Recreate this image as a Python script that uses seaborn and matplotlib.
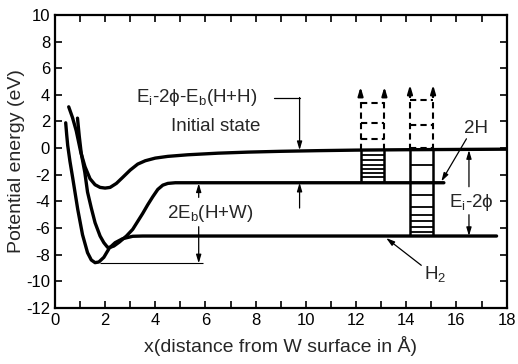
import numpy as np
import pandas as pd
import matplotlib
matplotlib.use("Agg")
import matplotlib.pyplot as plt
import seaborn as sns

# curve points (x in Angstrom, energy in eV)
init_x = [0.55, 0.7, 0.85, 1.03, 1.2, 1.4, 1.6, 1.8, 2.0, 2.2, 2.45, 2.7, 3.0, 3.3, 3.6, 4.0,
          4.5, 5.3, 6.5, 7.7, 9.0, 10.5, 12.0, 14.0, 16.0, 18.0]
init_y = [3.1, 2.3, 1.3, -0.3, -1.4, -2.3, -2.75, -2.95, -3.0, -2.95, -2.65, -2.2, -1.65, -1.2,
          -0.95, -0.75, -0.62, -0.5, -0.38, -0.3, -0.24, -0.19, -0.15, -0.12, -0.1, -0.08]

h2h_x = [0.9, 0.97, 1.05, 1.19, 1.3, 1.45, 1.6, 1.8, 1.95, 2.1, 2.2, 2.35, 2.57, 2.85, 3.1, 3.3,
         3.5, 3.7, 3.9, 4.1, 4.3, 4.5, 4.8, 15.5]
h2h_y = [2.25, 0.9, -0.4, -1.8, -3.3, -4.5, -5.6, -6.6, -7.1, -7.45, -7.45, -7.35, -7.05, -6.6,
         -6.1, -5.5, -4.9, -4.25, -3.65, -3.1, -2.78, -2.65, -2.6, -2.6]

h2_x = [0.43, 0.47, 0.51, 0.6, 0.71, 0.91, 1.1, 1.3, 1.45, 1.6, 1.75, 1.95, 2.17, 2.4, 2.7, 3.1,
        3.5, 17.6]
h2_y = [1.9, 1.0, 0.2, -1.0, -2.25, -4.6, -6.5, -7.85, -8.4, -8.6, -8.55, -8.2, -7.5, -7.1,
        -6.8, -6.62, -6.6, -6.6]

# energy ladders
ladder1_x = [12.18, 13.13]
ladder1_solid = [-0.5, -0.9, -1.25, -1.55, -1.85, -2.15]
ladder1_dash = [0.7, 1.9, 3.4]
ladder2_x = [14.15, 15.07]
ladder2_solid = [-1.25, -2.6, -3.5, -4.4, -5.0, -5.5, -5.9, -6.3]
ladder2_dash = [0.0, 1.7, 3.6]

level_init = -0.15
level_2h = -2.6
level_h2 = -6.6
h2_min = -8.65

df = pd.concat([
    pd.DataFrame({"x": init_x, "E": init_y, "state": "initial"}),
    pd.DataFrame({"x": h2h_x, "E": h2h_y, "state": "2H"}),
    pd.DataFrame({"x": h2_x, "E": h2_y, "state": "H2"}),
])

sns.set_style("ticks", {"xtick.direction": "in", "ytick.direction": "in"})
plt.rcParams["font.family"] = ["Liberation Sans", "DejaVu Sans"]
plt.rcParams["mathtext.fontset"] = "custom"
plt.rcParams["mathtext.rm"] = "Liberation Sans"
plt.rcParams["axes.unicode_minus"] = False

fig = plt.figure(figsize=(5.18, 3.64), dpi=100)
ax = fig.add_axes([0.106, 0.154, 0.872, 0.805])

sns.lineplot(data=df, x="x", y="E", units="state", estimator=None, sort=False,
             color="black", linewidth=2.4, ax=ax, legend=False)

lw_thin = 0.9
fs = 13.5
# reference line at H2 minimum
ax.hlines(h2_min, 1.8, 5.9, color="black", linewidth=0.8)

# ladders: solid parts
ax.vlines(ladder1_x, level_2h, level_init, color="black", linewidth=1.8)
ax.hlines(ladder1_solid, ladder1_x[0], ladder1_x[1], color="black", linewidth=1.3)
ax.vlines(ladder2_x, level_h2, level_init, color="black", linewidth=1.8)
ax.hlines(ladder2_solid, ladder2_x[0], ladder2_x[1], color="black", linewidth=1.3)
# ladders: dashed parts with arrows on top
for lx, dash, top in [(ladder1_x, ladder1_dash, 4.6), (ladder2_x, ladder2_dash, 4.75)]:
    ax.vlines(lx, level_init, top - 0.6, color="black", linewidth=1.5, linestyles=(0, (3, 2)))
    ax.hlines(dash, lx[0], lx[1], color="black", linewidth=1.5, linestyles=(0, (3, 2)))
    for xx in lx:
        ax.annotate("", xy=(xx, top), xytext=(xx, top - 0.7),
                    arrowprops=dict(arrowstyle="-|>,head_length=0.5,head_width=0.15",
                                    color="black", lw=1.5, shrinkA=0, shrinkB=0))

arr = dict(arrowstyle="-|>,head_length=0.5,head_width=0.15", color="black",
           lw=lw_thin, shrinkA=0, shrinkB=0)

# E_i - 2phi - E_b(H+H) label with leader
ax.text(5.65, 3.8, "E$_\\mathregular{i}$-2\u03d5-E$_\\mathregular{b}$(H+H)",
        ha="center", va="center", fontsize=fs)
ax.plot([8.75, 9.75], [3.8, 3.8], color="black", linewidth=lw_thin)
ax.annotate("", xy=(9.75, level_init), xytext=(9.75, 3.8), arrowprops=arr)
ax.annotate("", xy=(9.75, level_2h), xytext=(9.75, -4.5), arrowprops=arr)
ax.text(6.4, 1.6, "Initial state", ha="center", va="center", fontsize=fs)

# 2E_b(H+W)
ax.text(6.2, -4.9, "2E$_\\mathregular{b}$(H+W)", ha="center", va="center", fontsize=fs)
ax.annotate("", xy=(5.73, level_2h - 0.05), xytext=(5.73, -3.7), arrowprops=arr)
ax.annotate("", xy=(5.73, h2_min), xytext=(5.73, -5.9), arrowprops=arr)

# E_i - 2phi
ax.text(16.6, -4.05, "E$_\\mathregular{i}$-2\u03d5", ha="center", va="center", fontsize=fs)
ax.annotate("", xy=(16.5, level_init), xytext=(16.5, -2.9), arrowprops=arr)
ax.annotate("", xy=(16.5, level_h2), xytext=(16.5, -5.0), arrowprops=arr)

# labels with leaders
ax.text(16.8, 1.5, "2H", ha="center", va="center", fontsize=fs)
ax.annotate("", xy=(15.4, -2.5), xytext=(16.4, 0.7), arrowprops=arr)
ax.text(15.15, -9.5, "H$_\\mathregular{2}$", ha="center", va="center", fontsize=fs)
ax.annotate("", xy=(13.2, -6.75), xytext=(14.6, -8.8), arrowprops=arr)

ax.set_xlim(0, 18)
ax.set_ylim(-12, 10)
ax.set_xticks(np.arange(0, 19, 2))
ax.set_xticks(np.arange(0, 19, 1), minor=True)
ax.set_yticks(np.arange(-12, 11, 2))
ax.tick_params(which="both", direction="in", top=True, right=True, labelright=False,
               length=5, width=1.2, labelsize=12, colors="black")
ax.set_xlabel("x(distance from W surface in \u00c5)", fontsize=14, labelpad=6)
ax.set_ylabel("Potential energy (eV)", fontsize=14, labelpad=1)
for s in ax.spines.values():
    s.set_linewidth(1.6)
    s.set_color("black")

fig.savefig("out.png", dpi=100)
